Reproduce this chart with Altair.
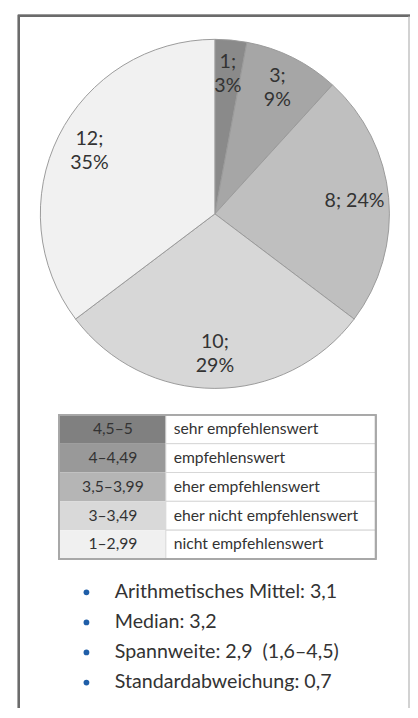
import altair as alt
import pandas as pd

# ---- data ----
ranges = ["4,5–5", "4–4,49", "3,5–3,99", "3–3,49", "1–2,99"]
ratings = ["sehr empfehlenswert", "empfehlenswert", "eher empfehlenswert",
           "eher nicht empfehlenswert", "nicht empfehlenswert"]
counts = [1, 3, 8, 10, 12]
slice_labels = ["1;\n3%", "3;\n9%", "8; 24%", "10;\n29%", "12;\n35%"]
stats = ["Arithmetisches Mittel: 3,1", "Median: 3,2",
         "Spannweite: 2,9\u00a0 (1,6–4,5)", "Standardabweichung: 0,7"]

# ---- styles ----
pie_greys = ["#8a8a8a", "#a6a6a6", "#bfbfbf", "#d7d7d7", "#f1f1f1"]
table_greys = ["#808080", "#999999", "#b5b5b5", "#d9d9d9", "#f0f0f0"]
FONT = "Lato"
TXT = "#333333"

pie_df = pd.DataFrame({"range": ranges, "count": counts, "label": slice_labels,
                       "idx": list(range(len(ranges)))})
pie_df["multi"] = pie_df["label"].str.contains("\n")
table_df = pd.DataFrame({"range": ranges, "rating": ratings})
stats_df = pd.DataFrame({"stat": stats})

CX, CY, R = 211, 203, 178
LH = 25

pie_color = alt.Color("range:N", scale=alt.Scale(domain=ranges, range=pie_greys), legend=None)

base_pie = alt.Chart(pie_df)

pie = base_pie.mark_arc(outerRadius=R, stroke="#9a9a9a", strokeWidth=1).encode(
    theta=alt.Theta("count:Q", stack=True),
    color=pie_color,
    order=alt.Order("idx:Q"),
    x=alt.value(CX), y=alt.value(CY),
)


def label_layer(multi):
    return base_pie.mark_text(
        radius=143, font=FONT, fontSize=20, color=TXT, lineBreak="\n", lineHeight=LH,
        align="center", baseline="middle", dy=(-LH / 2 if multi else 0)
    ).encode(
        theta=alt.Theta("count:Q", stack=True),
        detail=alt.Detail("range:N"),
        order=alt.Order("idx:Q"),
        text=alt.condition(alt.datum.multi == multi, "label:N", alt.value("")),
        x=alt.value(CX), y=alt.value(CY),
    )


pie_text_multi = label_layer(True)
pie_text_single = label_layer(False)

row_y = alt.Y("range:N", sort=ranges, axis=None,
              scale=alt.Scale(domain=ranges, range=[408, 555], paddingInner=0, paddingOuter=0))

tbl_left = alt.Chart(table_df).mark_rect().encode(
    y=row_y,
    x=alt.value(52), x2=alt.value(161),
    color=alt.Color("range:N", scale=alt.Scale(domain=ranges, range=table_greys), legend=None),
)
tbl_right = alt.Chart(table_df).mark_rect(fill="white", stroke="#d6d6d6", strokeWidth=1).encode(
    y=row_y, x=alt.value(161), x2=alt.value(375),
)
tbl_border = alt.Chart(table_df).mark_rect(fill=None, stroke="#a8a8a8", strokeWidth=1.5).encode(
    x=alt.value(52), x2=alt.value(375), y=alt.value(408), y2=alt.value(555)
)
tbl_range_text = alt.Chart(table_df).mark_text(
    font=FONT, fontSize=16, color=TXT, align="center", baseline="middle").encode(
    y=row_y, x=alt.value(107), text="range:N")
tbl_rating_text = alt.Chart(table_df).mark_text(
    font=FONT, fontSize=16, color=TXT, align="left", baseline="middle").encode(
    y=row_y, x=alt.value(169), text="rating:N")

stat_y = alt.Y("stat:N", sort=stats, axis=None,
               scale=alt.Scale(type="point", domain=stats, range=[589, 681], padding=0))
bullets = alt.Chart(stats_df).mark_circle(size=34, color="#1f5ea8", opacity=1).encode(
    y=stat_y, x=alt.value(80))
stat_text = alt.Chart(stats_df).mark_text(
    font=FONT, fontSize=20, color=TXT, align="left", baseline="middle").encode(
    y=stat_y, x=alt.value(109), text="stat:N")

frame = alt.Chart(stats_df).mark_rect(fill=None, stroke="#6b6b6b", strokeWidth=2).encode(
    x=alt.value(11), x2=alt.value(430), y=alt.value(1), y2=alt.value(730))
right_line = alt.Chart(stats_df).mark_rule(color="#d0d0d0", strokeWidth=1).encode(
    x=alt.value(409), y=alt.value(2), y2=alt.value(720))

chart = alt.layer(
    frame, right_line, pie, pie_text_multi, pie_text_single, tbl_left, tbl_right, tbl_border,
    tbl_range_text, tbl_rating_text, bullets, stat_text
).resolve_scale(
    y="independent", color="independent"
).properties(
    width=410, height=700, padding=0, autosize=alt.AutoSizeParams(type="none"),
    background="white"
).configure_view(stroke=None)

chart.save("out.html", embed_options={"renderer": "svg", "actions": False})
